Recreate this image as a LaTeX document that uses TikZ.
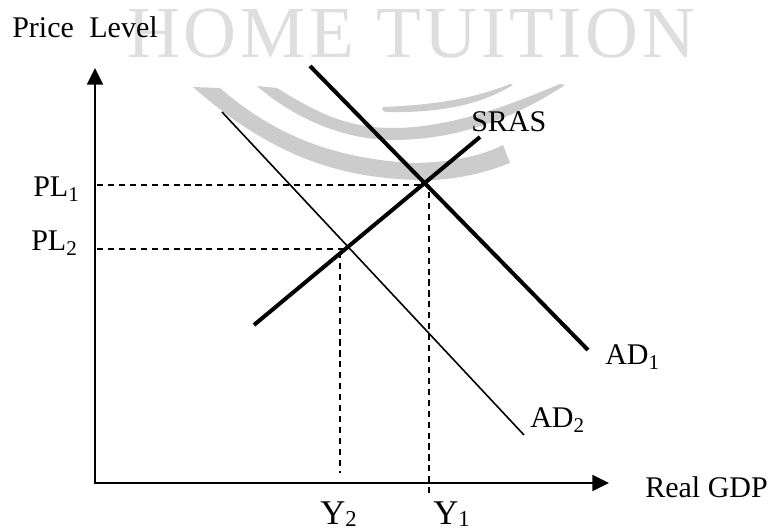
\documentclass[tikz,border=0pt]{standalone}
\usepackage{fontspec}
\setmainfont{Liberation Serif}
\usetikzlibrary{arrows.meta}
\definecolor{mSwoosh}{HTML}{CCCCCC}
\definecolor{mMark}{HTML}{DEDEDE}
\newcommand{\lowsub}[1]{\raisebox{-2pt}{\fontsize{17}{17}\selectfont #1}}

\begin{document}
\begin{tikzpicture}[x=0.75pt, y=-0.75pt,
      >={Triangle[length=12.5pt, width=12pt]},
      lbl/.style={anchor=base west, inner sep=0pt, font=\fontsize{22.5}{26}\selectfont},
      lblbig/.style={lbl, font=\fontsize{26}{30}\selectfont},
      axisline/.style={<->, line width=1.2pt},
      guide/.style={dashed, dash pattern=on 4.6pt off 3.6pt, line width=1pt},
      heavy/.style={line width=3pt},
      light/.style={line width=1.2pt}]
    \useasboundingbox (0,0) rectangle (776,531);
    % watermark
    \node[lbl, text=mMark, font=\fontsize{55}{60}\selectfont\addfontfeatures{LetterSpace=5}] (mark) at (127,58) {HOME TUITION};
    \fill[mSwoosh] (193,87) -- (220,88) .. controls (280,140) and (340,158) .. (410,163)
        .. controls (445,163) and (480,157) .. (503,145) -- (510,163)
        .. controls (480,175) and (450,180) .. (427,180)
        .. controls (340,180) and (270,155) .. (193,87) -- cycle;
    \fill[mSwoosh] (257,86) -- (277,88) .. controls (320,115) and (350,128) .. (393,128)
        .. controls (450,128) and (510,105) .. (560,84) -- (565,85)
        .. controls (530,108) and (470,140) .. (393,140)
        .. controls (340,140) and (290,115) .. (257,86) -- cycle;
    \fill[mSwoosh] (383,107) .. controls (430,105) and (470,100) .. (510,84) -- (513,85)
        .. controls (480,105) and (440,113) .. (387,112)
        .. controls (383,112) and (381,109) .. (383,107) -- cycle;
    % end points
    \coordinate (origin) at (95,483);
    \coordinate (ytip) at (95,68);
    \coordinate (xtip) at (609,483);
    \coordinate (pl1) at (97,185);
    \coordinate (pl2) at (97,249);
    \coordinate (e1) at (426,185);
    \coordinate (e2) at (346,249);
    \coordinate (y1top) at (429,192);
    \coordinate (y1end) at (429,493);
    \coordinate (y2top) at (340,252);
    \coordinate (y2end) at (340,473);
    \coordinate (ad1a) at (310,66);
    \coordinate (ad1b) at (588,350);
    \coordinate (ad2a) at (222,112);
    \coordinate (ad2b) at (524,435);
    \coordinate (srasa) at (254,325);
    \coordinate (srasb) at (480,137);
    % axes
    \draw[axisline] (ytip) -- (origin) -- (xtip);
    % guides
    \draw[guide] (pl1) -- (e1);
    \draw[guide] (pl2) -- (e2);
    \draw[guide] (y1top) -- (y1end);
    \draw[guide] (y2top) -- (y2end);
    % curves
    \draw[heavy] (ad1a) -- (ad1b);
    \draw[heavy] (srasa) -- (srasb);
    \draw[light] (ad2a) -- (ad2b);
    % labels
    \node[lbl] (price) at (12,38) {Price\hspace{6pt} Level};
    \node[lbl] (gdp) at (645,498) {Real GDP};
    \node[lbl] (sras) at (471,132) {SRAS};
    \node[lbl] (pla) at (33,197) {PL\textsubscript{1}};
    \node[lbl] (plb) at (31,251) {PL\textsubscript{2}};
    \node[lbl] (ada) at (605,365) {AD\textsubscript{1}};
    \node[lbl] (adb) at (530,428) {AD\textsubscript{2}};
    \node[lblbig] (ya) at (433,524) {Y\lowsub{1}};
    \node[lblbig] (yb) at (320,524) {Y\lowsub{2}};
\end{tikzpicture}
\end{document}
